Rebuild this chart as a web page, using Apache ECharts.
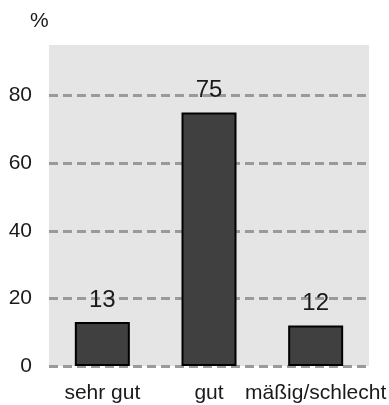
<!DOCTYPE html>
<html>
<head>
<meta charset="utf-8">
<script src="https://cdn.jsdelivr.net/npm/echarts@6/dist/echarts.min.js"></script>
<style>html,body{margin:0;padding:0;background:#fff}#c{width:389px;height:405px}</style>
</head>
<body>
<div id="c"></div>
<script>
const categories = ['sehr gut', 'gut', 'mäßig/schlecht'];
const values = [13, 75, 12];
const yTicks = [0, 20, 40, 60, 80];
const unitLabel = '%';

const font = '"Liberation Sans", Arial, sans-serif';
const chart = echarts.init(document.getElementById('c'), null, {renderer: 'canvas'});
chart.setOption({
  animation: false,
  title: {text: unitLabel, left: 25, top: 6, textStyle: {fontFamily: font, fontSize: 21, fontWeight: 'normal', color: '#1a1a1a'}},
  grid: {left: 49, right: 20, top: 45, bottom: 39, show: true, backgroundColor: '#e5e5e5', borderWidth: 0,
    containLabel: false, outerBoundsMode: 'none'},
  xAxis: {
    type: 'category', data: categories,
    axisLine: {show: false}, axisTick: {show: false},
    axisLabel: {fontFamily: font, fontSize: 21, color: '#1a1a1a', margin: 17, interval: 0, hideOverlap: false}
  },
  yAxis: {
    type: 'value', min: 0, max: 95, interval: 20,
    axisLine: {show: false}, axisTick: {show: false},
    axisLabel: {fontFamily: font, fontSize: 21, color: '#1a1a1a', margin: 17, showMaxLabel: false,
      formatter: v => yTicks.includes(v) ? String(v) : ''},
    splitLine: {show: true, showMaxLine: false, lineStyle: {color: '#9a9a9a', width: 3, type: [9, 5]}}
  },
  series: [{
    type: 'bar', data: values, barWidth: 55,
    itemStyle: {color: '#404040', borderColor: '#000', borderWidth: 2},
    label: {show: true, position: 'top', distance: 10, fontFamily: font, fontSize: 24, color: '#1a1a1a'}
  }]
});
</script>
</body>
</html>
